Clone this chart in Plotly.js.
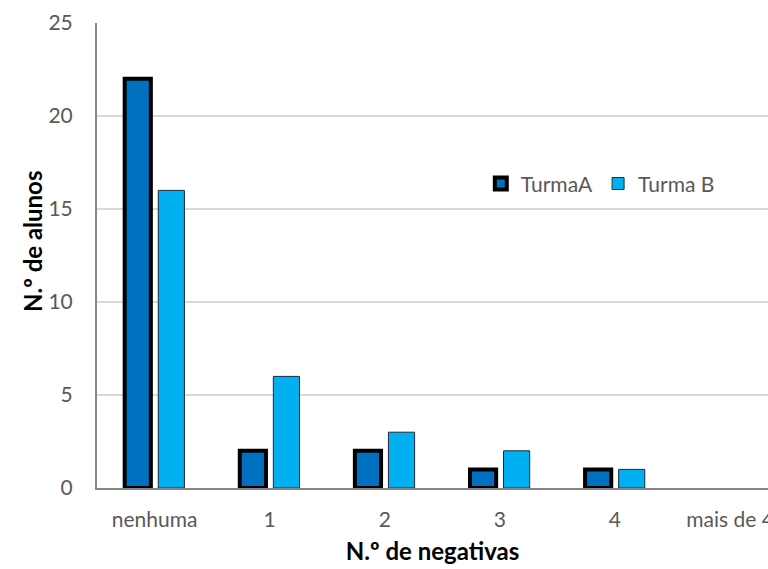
<!DOCTYPE html>
<html><head><meta charset="utf-8">
<script src="https://cdn.plot.ly/plotly-3.0.1.min.js"></script>
<style>html,body{margin:0;padding:0;background:#fff;}#chart{width:768px;height:569px;}</style>
</head><body><div id="chart"></div>
<script>
const categories = ["nenhuma", "1", "2", "3", "4", "mais de 4"];
const turmaA = [22, 2, 2, 1, 1, 0];
const turmaB = [16, 6, 3, 2, 1, 0];
const yTicks = [0, 5, 10, 15, 20, 25];

const font = {family: "Lato, Open Sans, sans-serif", size: 21, color: "#595959"};
const titleFont = {family: "Lato, Open Sans, sans-serif", size: 24, color: "#000", weight: "bold"};
const traces = [
  {type: "bar", name: "TurmaA", x: categories, y: turmaA,
   marker: {color: "#0070C0", line: {color: "#000000", width: turmaA.map(v => v === 0 ? 0 : 4)}}},
  {type: "bar", name: "Turma B", x: categories, y: turmaB,
   marker: {color: "#00B0F0", line: {color: "#1f2a36", width: turmaB.map(v => v === 0 ? 0 : 1)}}}
];
const layout = {
  width: 768, height: 569,
  margin: {l: 97, r: 0, t: 23, b: 81},
  paper_bgcolor: "#fff", plot_bgcolor: "#fff",
  font: font,
  barmode: "group", bargap: 0.417, bargroupgap: 0.22,
  showlegend: true,
  legend: {orientation: "h", x: 0.572, xanchor: "left", y: 0.654, yanchor: "middle",
           font: font, bgcolor: "rgba(0,0,0,0)", itemwidth: 30, tracegroupgap: 0},
  xaxis: {type: "category", range: [-0.5, 5.33], showgrid: false,
          showline: true, linecolor: "#868686", linewidth: 2,
          ticks: "outside", ticklen: 12, tickcolor: "rgba(0,0,0,0)",
          tickfont: font, fixedrange: true,
          title: {text: "N.º de negativas", font: titleFont, standoff: 13}},
  yaxis: {range: [0, 25], tickvals: yTicks, showgrid: true, gridcolor: "#d9d9d9", gridwidth: 1.5,
          showline: true, linecolor: "#868686", linewidth: 2, zeroline: false,
          ticks: "outside", ticklen: 18, tickcolor: "rgba(0,0,0,0)",
          tickfont: font},
  annotations: [{text: "N.º de alunos", font: titleFont, textangle: -90,
                 xref: "paper", yref: "paper", x: -0.097, y: 0.531,
                 xanchor: "center", yanchor: "middle", showarrow: false}]
};
Plotly.newPlot("chart", traces, layout, {displayModeBar: false, staticPlot: true});
</script></body></html>
